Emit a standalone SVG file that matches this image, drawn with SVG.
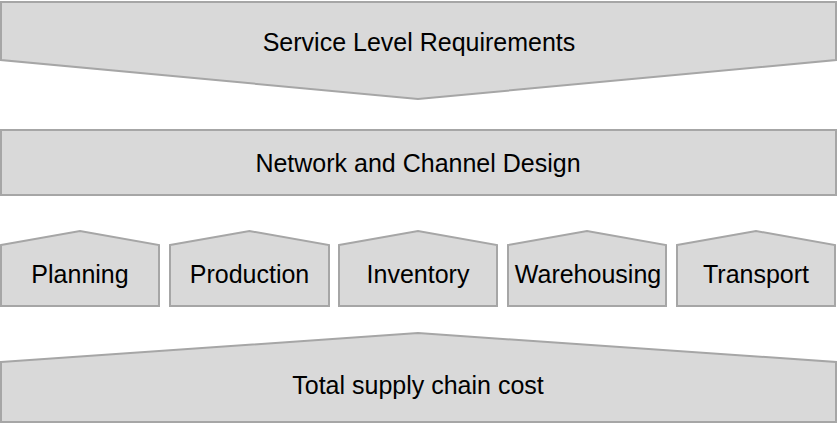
<svg xmlns="http://www.w3.org/2000/svg" width="837" height="424" viewBox="0 0 837 424">
<style>
.s{fill:#d9d9d9;stroke:#a6a6a6;stroke-width:2;stroke-linejoin:miter}
.t{font-family:"Liberation Sans",Arial,sans-serif;font-size:25px;fill:#000;text-anchor:middle;dominant-baseline:central}
</style>
<rect width="837" height="424" fill="#fff"/>
<g id="service">
<polygon class="s" points="1,2 836,2 836,60 418,99 1,60"/>
<text class="t" x="419" y="42">Service Level Requirements</text>
</g>
<g id="network">
<rect class="s" x="1" y="130" width="835" height="65"/>
<text class="t" x="418" y="163">Network and Channel Design</text>
</g>
<g id="planning">
<polygon class="s" points="1,245 80,231 159,245 159,306 1,306"/>
<text class="t" x="80" y="274">Planning</text>
</g>
<g id="production">
<polygon class="s" points="170,245 249.5,231 329,245 329,306 170,306"/>
<text class="t" x="249.5" y="274">Production</text>
</g>
<g id="inventory">
<polygon class="s" points="339,245 418,231 497,245 497,306 339,306"/>
<text class="t" x="418" y="274">Inventory</text>
</g>
<g id="warehousing">
<polygon class="s" points="508,245 587,231 666,245 666,306 508,306"/>
<text class="t" x="588" y="274">Warehousing</text>
</g>
<g id="transport">
<polygon class="s" points="677,245 756,231 835,245 835,306 677,306"/>
<text class="t" x="756" y="274">Transport</text>
</g>
<g id="cost">
<polygon class="s" points="1,362 418,333 836,362 836,422 1,422"/>
<text class="t" x="418" y="385">Total supply chain cost</text>
</g>
<g id="connectors"></g>
</svg>
